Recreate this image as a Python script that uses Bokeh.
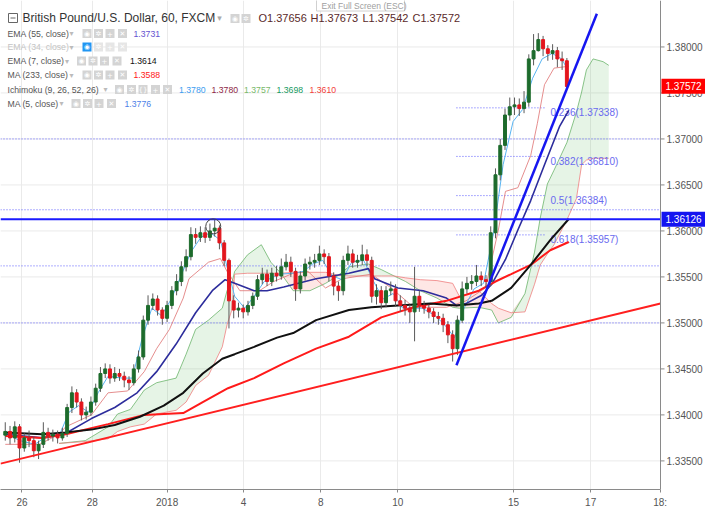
import numpy as np
from bokeh.plotting import figure
from bokeh.models import Range1d, FixedTicker
from bokeh.core.properties import value
from bokeh.embed import file_html
from bokeh.resources import INLINE

# ---------------- data (3-hour bars) ----------------
bars = list(range(1, 120))
first_open = 1.3378
closes = [1.3382, 1.3375, 1.3387, 1.3364, 1.3375, 1.3372, 1.3361, 1.3368, 1.3381, 1.3377,
          1.3379, 1.3375, 1.3380, 1.3408, 1.3424, 1.3414, 1.3400, 1.3403, 1.3414, 1.3429,
          1.3445, 1.3450, 1.3440, 1.3445, 1.3442, 1.3438, 1.3435, 1.3450, 1.3463, 1.3503,
          1.3519, 1.3526, 1.3514, 1.3505, 1.3519, 1.3535, 1.3545, 1.3561, 1.3572, 1.3596,
          1.3593, 1.3598, 1.3593, 1.3600, 1.3603, 1.3587, 1.3568, 1.3524, 1.3514, 1.3516,
          1.3512, 1.3519, 1.3529, 1.3547, 1.3553, 1.3545, 1.3554, 1.3551, 1.3561, 1.3566,
          1.3556, 1.3537, 1.3551, 1.3564, 1.3566, 1.3568, 1.3575, 1.3572, 1.3551, 1.3540,
          1.3535, 1.3568, 1.3575, 1.3566, 1.3568, 1.3574, 1.3568, 1.3529, 1.3535, 1.3522,
          1.3535, 1.3537, 1.3524, 1.3519, 1.3516, 1.3512, 1.3529, 1.3519, 1.3516, 1.3512,
          1.3507, 1.3505, 1.3498, 1.3487, 1.3472, 1.3503, 1.3537, 1.3543, 1.3545, 1.3551,
          1.3547, 1.3545, 1.3598, 1.3661, 1.3693, 1.3726, 1.3735, 1.3737, 1.3733, 1.3740,
          1.3787, 1.3796, 1.3808, 1.3798, 1.3793, 1.3796, 1.3787, 1.3785, 1.3757]
highs = [1.3392, 1.3388, 1.3393, 1.3390, 1.3380, 1.3383, 1.3376, 1.3372, 1.3392, 1.3386,
         1.3384, 1.3383, 1.3386, 1.3412, 1.3431, 1.3428, 1.3418, 1.3409, 1.3420, 1.3434,
         1.3452, 1.3456, 1.3455, 1.3452, 1.3450, 1.3447, 1.3442, 1.3455, 1.3470, 1.3508,
         1.3530, 1.3532, 1.3530, 1.3517, 1.3524, 1.3540, 1.3553, 1.3567, 1.3580, 1.3604,
         1.3603, 1.3605, 1.3604, 1.3608, 1.3612, 1.3606, 1.3590, 1.3570, 1.3530, 1.3522,
         1.3520, 1.3524, 1.3533, 1.3552, 1.3560, 1.3558, 1.3560, 1.3562, 1.3570, 1.3575,
         1.3572, 1.3560, 1.3556, 1.3570, 1.3572, 1.3575, 1.3584, 1.3580, 1.3576, 1.3555,
         1.3545, 1.3573, 1.3584, 1.3580, 1.3574, 1.3585, 1.3580, 1.3572, 1.3542, 1.3540,
         1.3540, 1.3545, 1.3542, 1.3530, 1.3525, 1.3520, 1.3561, 1.3535, 1.3524, 1.3520,
         1.3516, 1.3512, 1.3510, 1.3502, 1.3492, 1.3508, 1.3545, 1.3550, 1.3552, 1.3563,
         1.3556, 1.3552, 1.3605, 1.3668, 1.3700, 1.3733, 1.3745, 1.3745, 1.3744, 1.3752,
         1.3792, 1.3814, 1.3815, 1.3812, 1.3802, 1.3803, 1.3800, 1.3795, 1.3788]
lows = [1.3372, 1.3368, 1.3370, 1.3348, 1.3360, 1.3365, 1.3354, 1.3352, 1.3364, 1.3372,
        1.3371, 1.3369, 1.3372, 1.3376, 1.3402, 1.3408, 1.3394, 1.3395, 1.3399, 1.3410,
        1.3425, 1.3440, 1.3434, 1.3436, 1.3437, 1.3430, 1.3427, 1.3432, 1.3446, 1.3460,
        1.3498, 1.3514, 1.3508, 1.3498, 1.3501, 1.3515, 1.3530, 1.3540, 1.3556, 1.3568,
        1.3586, 1.3588, 1.3587, 1.3589, 1.3594, 1.3580, 1.3562, 1.3494, 1.3505, 1.3506,
        1.3505, 1.3508, 1.3515, 1.3525, 1.3542, 1.3540, 1.3540, 1.3545, 1.3547, 1.3557,
        1.3550, 1.3524, 1.3532, 1.3546, 1.3558, 1.3560, 1.3563, 1.3564, 1.3545, 1.3530,
        1.3524, 1.3530, 1.3563, 1.3560, 1.3560, 1.3563, 1.3562, 1.3522, 1.3520, 1.3515,
        1.3517, 1.3530, 1.3518, 1.3512, 1.3508, 1.3500, 1.3480, 1.3512, 1.3510, 1.3505,
        1.3500, 1.3498, 1.3490, 1.3478, 1.3458, 1.3465, 1.3500, 1.3532, 1.3536, 1.3540,
        1.3540, 1.3538, 1.3540, 1.3592, 1.3655, 1.3688, 1.3720, 1.3726, 1.3725, 1.3728,
        1.3735, 1.3780, 1.3795, 1.3790, 1.3785, 1.3786, 1.3778, 1.3775, 1.3754]

# indicator lines (x in bar units, y in price)
ema7_x = [1.0, 8.8, 13.7, 19.1, 24.0, 29.3, 34.3, 38.4, 42.5, 46.6, 49.2, 53.3, 58.1, 61.5,
          66.3, 73.2, 77.9, 83.5, 90.3, 95.8, 100.5, 103.2, 107.3, 111.4, 115.5, 119.4]
ema7_y = [1.3381, 1.3379, 1.3381, 1.3384, 1.3389, 1.3398, 1.3410, 1.3424, 1.3445, 1.3461,
          1.3466, 1.3474, 1.3484, 1.3489, 1.3503, 1.3514, 1.3517, 1.3519, 1.3521, 1.3519,
          1.3521, 1.3524, 1.3538, 1.3563, 1.3590, 1.3613]
ma233_x = [1.0, 8.8, 13.7, 22.6, 30.2, 38.4, 42.5, 47.8, 53.3, 59.5, 66.3, 73.2, 80.0, 86.8,
           93.7, 100.5, 104.0, 107.3, 111.4, 115.5, 119.4]
ma233_y = [1.3377, 1.3375, 1.3379, 1.3390, 1.3400, 1.3402, 1.3414, 1.3429, 1.3440, 1.3456,
           1.3472, 1.3485, 1.3506, 1.3517, 1.3524, 1.3535, 1.3545, 1.3553, 1.3563, 1.3579, 1.3588]
ema55_x = [1.0, 8.8, 13.7, 19.1, 24.0, 28.7, 32.8, 36.9, 41.0, 44.5, 47.2, 49.2, 53.3, 56.0,
           59.5, 66.3, 73.2, 77.3, 78.6, 83.5, 88.8, 93.7, 95.8, 97.8, 101.1, 103.2, 106.1,
           108.7, 111.4, 114.3, 117.5, 119.4]
ema55_y = [1.3379, 1.3375, 1.3380, 1.3396, 1.3408, 1.3424, 1.3447, 1.3477, 1.3511, 1.3535,
           1.3547, 1.3543, 1.3535, 1.3535, 1.3539, 1.3548, 1.3554, 1.3559, 1.3548, 1.3538,
           1.3535, 1.3527, 1.3519, 1.3521, 1.3530, 1.3542, 1.3569, 1.3601, 1.3633, 1.3672,
           1.3714, 1.3731]
ma5_x = [1.0, 4.1, 7.2, 9.2, 12.3, 14.4, 16.4, 18.5, 20.5, 22.6, 25.6, 27.7, 29.7, 31.8, 33.8,
         35.9, 37.9, 40.0, 42.1, 44.1, 46.2, 47.6, 49.2, 51.3, 53.3, 55.4, 58.5, 61.5, 63.6,
         65.6, 67.7, 69.7, 71.8, 73.8, 76.3, 78.4, 80.4, 82.5, 84.5, 86.6, 88.6, 91.3, 93.3,
         95.4, 97.4, 99.5, 101.5, 103.6, 105.6, 107.7, 109.7, 111.8, 113.8, 115.9, 117.9, 119.0]
ma5_y = [1.3380, 1.3372, 1.3368, 1.3375, 1.3377, 1.3403, 1.3410, 1.3403, 1.3424, 1.3442,
         1.3440, 1.3440, 1.3482, 1.3516, 1.3508, 1.3526, 1.3551, 1.3577, 1.3593, 1.3598,
         1.3590, 1.3561, 1.3529, 1.3516, 1.3529, 1.3545, 1.3553, 1.3554, 1.3556, 1.3564,
         1.3568, 1.3551, 1.3547, 1.3566, 1.3568, 1.3545, 1.3526, 1.3532, 1.3516, 1.3516,
         1.3516, 1.3508, 1.3498, 1.3484, 1.3516, 1.3537, 1.3543, 1.3598, 1.3672, 1.3719,
         1.3732, 1.3766, 1.3787, 1.3793, 1.3787, 1.3777]
kijun_x = [1.0, 8.2, 12.3, 13.7, 19.1, 22.6, 26.7, 30.2, 32.8, 35.5, 38.4, 39.6, 43.7, 46.2,
           47.6, 50.3, 54.4, 57.4, 61.5, 64.6, 68.3, 71.8, 77.9, 82.1, 86.8, 93.7, 97.8, 101.9,
           104.6, 106.1, 108.7, 111.4, 112.8, 114.3, 116.3, 119.4]
kijun_y = [1.3368, 1.3368, 1.3379, 1.3387, 1.3400, 1.3424, 1.3426, 1.3447, 1.3472, 1.3493,
           1.3527, 1.3548, 1.3566, 1.3570, 1.3556, 1.3535, 1.3535, 1.3545, 1.3554, 1.3556,
           1.3538, 1.3548, 1.3553, 1.3538, 1.3517, 1.3517, 1.3524, 1.3538, 1.3601, 1.3643,
           1.3647, 1.3682, 1.3717, 1.3759, 1.3777, 1.3779]
cloud_x = [12.3, 17.8, 22.6, 24.6, 27.3, 30.2, 32.8, 36.9, 39.0, 41.0, 43.7, 46.6, 47.6, 48.6,
           49.2, 51.9, 54.8, 56.8, 58.9, 61.5, 65.0, 68.3, 70.8, 73.2, 77.3, 80.0, 82.7, 85.1,
           88.2, 91.7, 95.0, 96.4, 100.5, 103.2, 104.6, 107.3, 110.2, 112.2, 113.4, 114.9,
           116.3, 119.0, 121.0, 122.1, 123.1, 124.5, 126.6, 127.8]
span_a = [1.3369, 1.3372, 1.3387, 1.3401, 1.3406, 1.3427, 1.3435, 1.3440, 1.3466, 1.3493,
          1.3503, 1.3516, 1.3535, 1.3543, 1.3556, 1.3574, 1.3585, 1.3566, 1.3554, 1.3535,
          1.3535, 1.3543, 1.3551, 1.3561, 1.3564, 1.3558, 1.3551, 1.3545, 1.3535, 1.3527,
          1.3517, 1.3516, 1.3517, 1.3514, 1.3500, 1.3506, 1.3532, 1.3577, 1.3614, 1.3651,
          1.3666, 1.3696, 1.3729, 1.3751, 1.3775, 1.3787, 1.3784, 1.3780]
span_b = [1.3369, 1.3371, 1.3374, 1.3382, 1.3387, 1.3390, 1.3401, 1.3405, 1.3414, 1.3432,
          1.3443, 1.3474, 1.3498, 1.3514, 1.3553, 1.3554, 1.3554, 1.3554, 1.3554, 1.3555,
          1.3555, 1.3555, 1.3552, 1.3551, 1.3551, 1.3551, 1.3551, 1.3549, 1.3547, 1.3546,
          1.3543, 1.3529, 1.3535, 1.3521, 1.3516, 1.3511, 1.3512, 1.3542, 1.3563, 1.3575,
          1.3585, 1.3612, 1.3635, 1.3672, 1.3677, 1.3679, 1.3679, 1.3679]

# drawings
red_trend_x = [0.0, 138.67]
red_trend_y = [1.3347, 1.3521]
blue_trend_x = [95.8, 125.3]
blue_trend_y = [1.3454, 1.3836]
hline_price = 1.36126
last_price = 1.37572
dotted_levels = [1.3700, 1.3623, 1.3562, 1.3500]
fib_levels = [1.37338, 1.36810, 1.36384, 1.35957]
fib_texts = ["0.236(1.37338)", "0.382(1.36810)", "0.5(1.36384)", "0.618(1.35957)"]
fib_x = [95.8, 114.5]
peak_mark = (44.7, 1.3605)

price_ticks = [1.335, 1.340, 1.345, 1.350, 1.355, 1.360, 1.365, 1.370, 1.375, 1.380]
date_tick_pos = [4.51, 19.28, 35.0, 51.08, 67.28, 83.49, 107.8, 124.0, 138.6]
date_tick_labels = ["26", "28", "2018", "4", "8", "10", "15", "17", "18:"]

title_text = "British Pound/U.S. Dollar, 60, FXCM"
ohlc_texts = ["O1.37656", "H1.37673", "L1.37542", "C1.37572"]
legend_names = ["EMA (55, close)", "EMA (34, close)", "EMA (7, close)", "MA (233, close)",
                "Ichimoku (9, 26, 52, 26)", "MA (5, close)"]
legend_values = [[("1.3731", "#6453d0")], [], [("1.3614", "#111111")], [("1.3588", "#ff2020")],
                 [("1.3780", "#3d9cf0"), ("1.3780", "#8e1f45"), ("1.3757", "#78b86a"),
                  ("1.3698", "#159a62"), ("1.3610", "#f2413a")],
                 [("1.3776", "#4d7fe8")]]

# ---------------- figure ----------------
FW, FH = 705, 489
AXIS_PX = 660                      # pixel position of the price-scale line
X_END = 138.67                     # bar coordinate of the price-scale line
XR = (0.0, X_END * FW / AXIS_PX)   # frame also holds the price-scale strip
YR = (1.33189, 1.38505)
FONT = "Liberation Sans"

p = figure(frame_width=FW, frame_height=FH, x_range=Range1d(*XR), y_range=Range1d(*YR),
           y_axis_location=None, output_backend="svg", toolbar_location=None,
           min_border=0, min_border_left=0, min_border_top=0, min_border_right=0,
           min_border_bottom=0)
p.outline_line_color = None
p.background_fill_color = "white"
p.border_fill_color = "white"

def sx(px):
    return XR[0] + px / FW * (XR[1] - XR[0])

def sy(py):
    return YR[1] - py / FH * (YR[1] - YR[0])

PX = (XR[1] - XR[0]) / FW          # one pixel in bar units

# bottom (time) axis
p.xaxis.ticker = FixedTicker(ticks=date_tick_pos)
p.xaxis.major_label_overrides = {pos: lab for pos, lab in zip(date_tick_pos, date_tick_labels)}
p.xaxis.bounds = (0, X_END)
ax = p.xaxis[0]
ax.axis_line_color = "#8a8a8a"
ax.major_tick_line_color = "#8a8a8a"
ax.major_tick_in = 0
ax.major_tick_out = 3
ax.minor_tick_line_color = None
ax.major_label_text_color = "#555555"
ax.major_label_text_font = FONT
ax.major_label_text_font_size = "10px"
ax.major_label_standoff = 4
p.xgrid.ticker = FixedTicker(ticks=date_tick_pos)
p.xgrid.grid_line_color = "#eaeaea"
p.ygrid.visible = False
# horizontal grid lines stop at the price scale
p.segment(x0=[0] * len(price_ticks), x1=[X_END] * len(price_ticks), y0=price_ticks,
          y1=price_ticks, line_color="#eaeaea", line_width=1)

# Ichimoku cloud
ca = np.array(span_a)
cb = np.array(span_b)
top = np.maximum(ca, cb)
p.varea(x=cloud_x, y1=cb, y2=top, fill_color="#4caf50", fill_alpha=0.14)
p.varea(x=cloud_x, y1=ca, y2=top, fill_color="#f44336", fill_alpha=0.13)
p.line(cloud_x, span_a, line_color="#6db56d", line_width=1, line_alpha=0.8)
p.line(cloud_x, span_b, line_color="#ef8080", line_width=1, line_alpha=0.8)

# dotted levels
n = len(dotted_levels)
p.segment(x0=[0] * n, x1=[X_END] * n, y0=dotted_levels, y1=dotted_levels,
          line_color="#5b5bff", line_dash="1 2", line_width=1)
p.segment(x0=[fib_x[0]] * 4, x1=[fib_x[1]] * 4, y0=fib_levels, y1=fib_levels,
          line_color="#5b5bff", line_dash="1 2", line_width=1)
p.text(x=[fib_x[1] + 5 * PX] * 4, y=fib_levels, text=fib_texts, text_font=value(FONT),
       text_font_size="10px", text_color="#6a6aef", text_baseline="middle", y_offset=5)

# indicators
p.line(kijun_x, kijun_y, line_color="#e07a7a", line_width=1, line_alpha=0.85)
p.line(ma5_x, ma5_y, line_color="#58b4f2", line_width=1)
p.line(ema55_x, ema55_y, line_color="#2d2d9c", line_width=1.6)
p.line(ma233_x, ma233_y, line_color="#ff1a1a", line_width=2)
p.line(ema7_x, ema7_y, line_color="#111111", line_width=2)

# candles
opens = [first_open] + closes[:-1]
up = [c >= o for o, c in zip(opens, closes)]
dn = [not u for u in up]
def sub(lst, mask):
    return [v for v, m in zip(lst, mask) if m]
p.segment(x0=bars, x1=bars, y0=lows, y1=highs, line_color="#5a5a5a", line_width=1)
for mask, col in ((up, "#1d6b2c"), (dn, "#e3161d")):
    o_ = sub(opens, mask)
    c_ = sub(closes, mask)
    p.vbar(x=sub(bars, mask), width=0.62, top=[max(a, b) for a, b in zip(o_, c_)],
           bottom=[min(a, b) for a, b in zip(o_, c_)], fill_color=col, line_color=col)

# drawings
p.line(red_trend_x, red_trend_y, line_color="#ff1f1f", line_width=2)
p.line(blue_trend_x, blue_trend_y, line_color="#1616f0", line_width=2.5)
p.segment(x0=[0], x1=[X_END], y0=[hline_price], y1=[hline_price], line_color="#1a1aff",
          line_width=2)
p.scatter([peak_mark[0]], [peak_mark[1]], marker="circle", size=15, fill_alpha=0,
          line_color="#444444", line_width=1)

# price scale strip (right side)
p.segment(x0=[X_END], x1=[X_END], y0=[YR[0]], y1=[YR[1]], line_color="#8a8a8a", line_width=1)
m = len(price_ticks)
p.segment(x0=[X_END] * m, x1=[X_END + 4 * PX] * m, y0=price_ticks, y1=price_ticks,
          line_color="#8a8a8a", line_width=1)
p.text(x=[X_END + 6 * PX] * m, y=price_ticks, text=[f"{t:.5f}" for t in price_ticks],
       text_font=value(FONT), text_font_size="10px", text_color="#555555",
       text_baseline="middle")
for pr, col in ((last_price, "#ff0000"), (hline_price, "#1414f0")):
    p.rect(x=[(X_END + XR[1]) / 2 + 0.5 * PX], y=[pr], width=XR[1] - X_END - PX, height=15,
           height_units="screen", fill_color=col, line_color=None)
    p.text(x=[X_END + 5 * PX], y=[pr], text=[f"{pr:.5f}"], text_font=value(FONT),
           text_font_size="10px", text_color="white", text_baseline="middle")

# ---------------- header / legend ----------------
def icons(xs, y, colors, syms):
    p.rect(x=[sx(v) for v in xs], y=[sy(y)] * len(xs), width=9, height=9,
           width_units="screen", height_units="screen", fill_color=colors, line_color=None)
    p.text(x=[sx(v) for v in xs], y=[sy(y)] * len(xs), text=syms, text_align="center",
           text_baseline="middle", text_color="white", text_font=value("DejaVu Sans"),
           text_font_size="7px")

# exit full screen box
p.rect(x=[sx(360)], y=[sy(4)], width=88, height=13, width_units="screen",
       height_units="screen", fill_color="white", line_color="#d0d0d0")
p.text(x=[sx(321)], y=[sy(5)], text=["Exit Full Screen (ESC)"], text_font=value(FONT),
       text_font_size="8.5px", text_color="#a0a0a0", text_baseline="middle")

# title row
p.rect(x=[sx(12.5)], y=[sy(17.5)], width=9, height=9, width_units="screen",
       height_units="screen", fill_alpha=0, line_color="#666666")
p.segment(x0=[sx(10)], x1=[sx(15)], y0=[sy(17.5)], y1=[sy(17.5)], line_color="#666666")
p.text(x=[sx(22)], y=[sy(17.5)], text=[title_text], text_font=value(FONT),
       text_font_size="12px", text_color="#333333", text_baseline="middle")
p.text(x=[sx(219)], y=[sy(17.5)], text=["\u25be"], text_font=value("DejaVu Sans"),
       text_font_size="9px", text_color="#aaaaaa", text_baseline="middle", text_align="center")
icons([234.5, 245.5], 18, ["#d4d4d4", "#d4d4d4"], ["\u25c9", "\u2732"])
p.text(x=[sx(v) for v in (258, 310, 362, 412)], y=[sy(17.5)] * 4, text=ohlc_texts,
       text_font=value(FONT), text_font_size="11px", text_color="#5a2a2a",
       text_baseline="middle")

row_y = [33, 46.5, 60.5, 74.5, 89, 103]
caret_x = [71, 71, 66.5, 71, 105, 61]
icon_x = [[86.5, 98, 109.5, 122], [86.5, 98, 109.5, 122], [81, 92.5, 104, 116.5],
          [86.5, 98, 109.5, 122], [119, 131, 142.5, 155, 167], [75.5, 87, 98.5, 111]]
value_x = [[133], [], [129.5], [133], [178.5, 211, 243.5, 276, 309], [124]]
for i, name in enumerate(legend_names):
    faded = (i == 1)
    tc = "#c4c4c4" if faded else "#555555"
    p.text(x=[sx(7)], y=[sy(row_y[i])], text=[name], text_font=value(FONT),
           text_font_size="8.7px", text_color=tc, text_baseline="middle")
    p.text(x=[sx(caret_x[i])], y=[sy(row_y[i])], text=["\u25be"],
           text_font=value("DejaVu Sans"), text_font_size="8px", text_color="#bbbbbb",
           text_baseline="middle", text_align="center")
    k = len(icon_x[i])
    syms = ["\u25c9", "\u2732", "{}", "+", "\u2715"] if k == 5 else ["\u25c9", "\u2732", "+", "\u2715"]
    cols = ["#d4d4d4"] * k
    if faded:
        cols = ["#2196f3"] + ["#e6e6e6"] * (k - 1)
    icons(icon_x[i], row_y[i], cols, syms)
    for (txt, col), vx in zip(legend_values[i], value_x[i]):
        p.text(x=[sx(vx)], y=[sy(row_y[i])], text=[txt], text_font=value(FONT),
               text_font_size="8.7px", text_color=col, text_baseline="middle")

open("out.html", "w").write(file_html(p, INLINE))
